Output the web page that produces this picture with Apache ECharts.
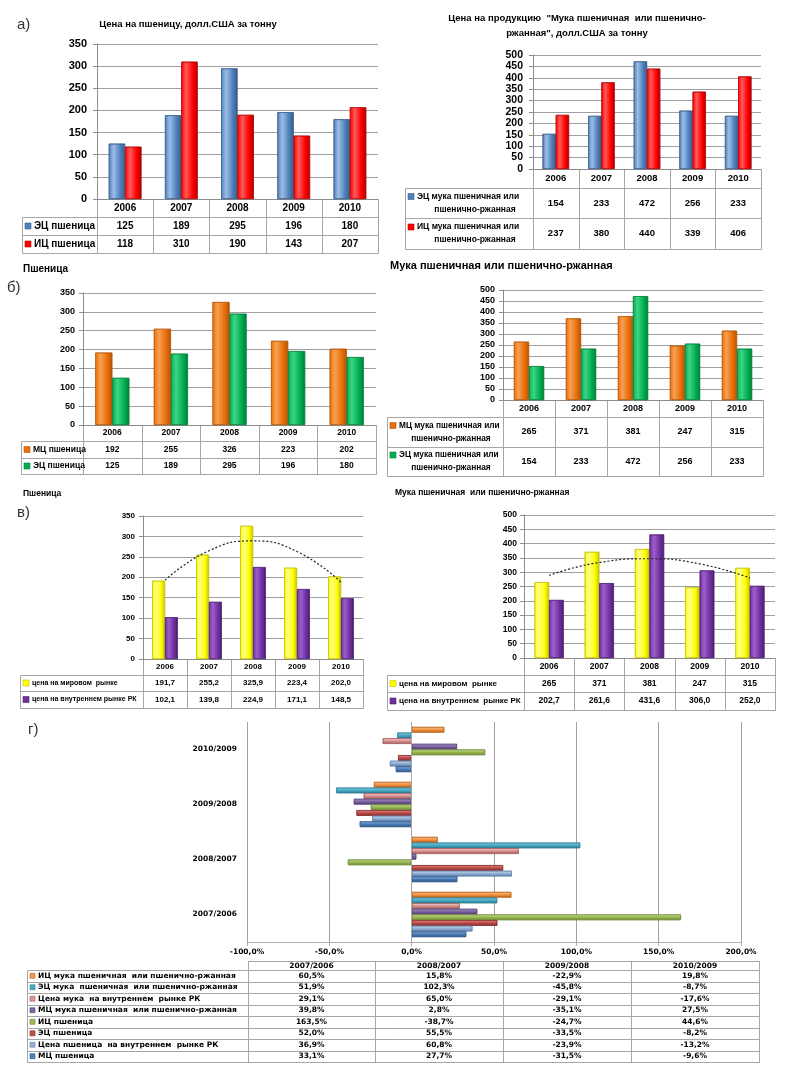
<!DOCTYPE html>
<html><head><meta charset="utf-8">
<script src="https://cdn.jsdelivr.net/npm/echarts/dist/echarts.min.js"></script>
<style>html,body{margin:0;padding:0;background:#fff}#c{width:787px;height:1073px}</style>
</head><body><div id="c"></div>
<script>
// ---------- DATA ----------
const years = ['2006', '2007', '2008', '2009', '2010'];
// а)
const ecWheat = [125, 189, 295, 196, 180];
const icWheat = [118, 310, 190, 143, 207];
const ecFlour = [154, 233, 472, 256, 233];
const icFlour = [237, 380, 440, 339, 406];
// б)
const mcWheat = [192, 255, 326, 223, 202];
const mcFlour = [265, 371, 381, 247, 315];
// в)
const worldWheat = [191.7, 255.2, 325.9, 223.4, 202.0];
const domWheat = [102.1, 139.8, 224.9, 171.1, 148.5];
const worldFlour = [265, 371, 381, 247, 315];
const domFlour = [202.7, 261.6, 431.6, 306.0, 252.0];
// dotted trend curves at each year
const trendWheat = [193, 265, 289, 263, 188];
const trendFlour = [289, 334, 347, 329, 280];
// г)
const periods = ['2007/2006', '2008/2007', '2009/2008', '2010/2009'];
const gIcFlour = [60.5, 15.8, -22.9, 19.8];
const gEcFlour = [51.9, 102.3, -45.8, -8.7];
const gDomFlour = [29.1, 65.0, -29.1, -17.6];
const gMcFlour = [39.8, 2.8, -35.1, 27.5];
const gIcWheat = [163.5, -38.7, -24.7, 44.6];
const gEcWheat = [52.0, 55.5, -33.5, -8.2];
const gDomWheat = [36.9, 60.8, -23.9, -13.2];
const gMcWheat = [33.1, 27.7, -31.5, -9.6];

// ---------- STYLE ----------
const FB = '"Liberation Sans", Arial, sans-serif';
const FD = '"DejaVu Sans", Verdana, sans-serif';
const GRID_C = '#a0a0a0';
const TBL_C = '#a6a6a6';
const C = {
  blue:   {light: '#9cbde6', mid: '#4f81bd', dark: '#385d8a'},
  red:    {light: '#ff5a5a', mid: '#ff0000', dark: '#b00000'},
  orange: {light: '#f8a050', mid: '#e9700c', dark: '#b35506'},
  green:  {light: '#3fd386', mid: '#00b050', dark: '#007f39'},
  yellow: {light: '#ffff8a', mid: '#ffff00', dark: '#c4c400'},
  purple: {light: '#9d5fcc', mid: '#7030a0', dark: '#4e1f72'}
};
const G = {
  orange: {light: '#fbc08a', mid: '#f79646', dark: '#b8651d'},
  cyan:   {light: '#8fd3e6', mid: '#4bacc6', dark: '#2c7f96'},
  pink:   {light: '#f4d3d2', mid: '#d99694', dark: '#a35b59'},
  purple: {light: '#ad98c8', mid: '#8064a2', dark: '#53407a'},
  green:  {light: '#cfe6a0', mid: '#9bbb59', dark: '#6b8a2f'},
  red:    {light: '#e58a88', mid: '#c0504d', dark: '#862b28'},
  lblue:  {light: '#d3e1f1', mid: '#95b3d7', dark: '#5f82ad'},
  blue:   {light: '#95b6dd', mid: '#4f81bd', dark: '#2c5587'}
};

const L = {
  a1: {grid: {left: 97, top: 44, width: 281, height: 155}, max: 350, yFont: 11, tFont: 10, lFont: 10, lm: 10, legendX: 22, hdr: [199, 217], rows: [[217, 235], [235, 253]]},
  a2: {grid: {left: 533, top: 55, width: 228, height: 114}, max: 500, yFont: 10.5, tFont: 9.5, lFont: 8.5, lm: 10, legendX: 405, hdr: [169, 188], rows: [[188, 218], [218, 249]]},
  b1: {grid: {left: 83, top: 293, width: 293, height: 132}, max: 350, yFont: 9, tFont: 8.5, lFont: 8.5, lm: 8, legendX: 21, hdr: [425, 441], rows: [[441, 458], [458, 474]]},
  b2: {grid: {left: 503, top: 290, width: 260, height: 110}, max: 500, yFont: 9, tFont: 9, lFont: 8.3, lm: 8, legendX: 387, hdr: [400, 417], rows: [[417, 447], [447, 476]]},
  c1: {grid: {left: 143, top: 516, width: 220, height: 143}, max: 350, yFont: 8, tFont: 8, lFont: 7, lm: 8, legendX: 20, hdr: [659, 675], rows: [[675, 691], [691, 708]]},
  c2: {grid: {left: 524, top: 515, width: 251, height: 143}, max: 500, yFont: 8.5, tFont: 8.5, lFont: 8, lm: 7, legendX: 387, hdr: [658, 675], rows: [[675, 692], [692, 710]]}
};

const charts = [
  {key: 'a1', series: [
    {label: ['ЭЦ пшеница'], data: ecWheat, color: C.blue, dec: 0},
    {label: ['ИЦ пшеница'], data: icWheat, color: C.red, dec: 0}]},
  {key: 'a2', series: [
    {label: ['ЭЦ мука пшеничная или', 'пшенично-ржанная'], data: ecFlour, color: C.blue, dec: 0},
    {label: ['ИЦ мука пшеничная или', 'пшенично-ржанная'], data: icFlour, color: C.red, dec: 0}]},
  {key: 'b1', series: [
    {label: ['МЦ пшеница'], data: mcWheat, color: C.orange, dec: 0},
    {label: ['ЭЦ пшеница'], data: ecWheat, color: C.green, dec: 0}]},
  {key: 'b2', series: [
    {label: ['МЦ мука пшеничная или', 'пшенично-ржанная'], data: mcFlour, color: C.orange, dec: 0},
    {label: ['ЭЦ мука пшеничная или', 'пшенично-ржанная'], data: ecFlour, color: C.green, dec: 0}]},
  {key: 'c1', trend: trendWheat, series: [
    {label: ['цена на мировом  рынке'], data: worldWheat, color: C.yellow, dec: 1},
    {label: ['цена на внутреннем рынке РК'], data: domWheat, color: C.purple, dec: 1}]},
  {key: 'c2', trend: trendFlour, series: [
    {label: ['цена на мировом  рынке'], data: worldFlour, color: C.yellow, dec: 0},
    {label: ['цена на внутреннем  рынке РК'], data: domFlour, color: C.purple, dec: 1}]}
];

const gSeries = [
  {name: 'ИЦ мука пшеничная  или пшенично-ржанная', data: gIcFlour, color: G.orange},
  {name: 'ЭЦ мука  пшеничная  или пшенично-ржанная', data: gEcFlour, color: G.cyan},
  {name: 'Цена мука  на внутреннем  рынке РК', data: gDomFlour, color: G.pink},
  {name: 'МЦ мука пшеничная  или пшенично-ржанная', data: gMcFlour, color: G.purple},
  {name: 'ИЦ пшеница', data: gIcWheat, color: G.green},
  {name: 'ЭЦ пшеница', data: gEcWheat, color: G.red},
  {name: 'Цена пшеница  на внутреннем  рынке РК', data: gDomWheat, color: G.lblue},
  {name: 'МЦ пшеница', data: gMcWheat, color: G.blue}
];
const gLayout = {grid: {left: 247, top: 722, width: 494, height: 220}, legendX: 27, cols: [248, 375, 503, 631, 759], hdr: [961, 970], rowH: 11.5};

const fmt = (v, d) => v.toFixed(d).replace('.', ',');

function hGrad(c) {
  return new echarts.graphic.LinearGradient(0, 0, 1, 0, [
    {offset: 0, color: c.mid}, {offset: 0.3, color: c.light}, {offset: 0.7, color: c.mid}, {offset: 1, color: c.dark}]);
}
function vGrad(c) {
  return new echarts.graphic.LinearGradient(0, 0, 0, 1, [
    {offset: 0, color: c.light}, {offset: 0.45, color: c.mid}, {offset: 1, color: c.dark}]);
}

// ---------- OPTION ----------
const grid = [], xAxis = [], yAxis = [], series = [];
charts.forEach((c, k) => {
  const g = L[c.key];
  grid.push(Object.assign({containLabel: false}, g.grid));
  xAxis.push({type: 'category', gridIndex: k, data: years,
    axisLine: {show: true, lineStyle: {color: '#8c8c8c'}}, axisTick: {show: false}, axisLabel: {show: false}});
  yAxis.push({type: 'value', gridIndex: k, min: 0, max: g.max, interval: 50,
    axisLine: {show: true, lineStyle: {color: '#8c8c8c'}},
    axisTick: {show: true, length: 4, lineStyle: {color: '#8c8c8c'}},
    splitLine: {lineStyle: {color: GRID_C, width: 1}},
    axisLabel: {margin: g.lm, fontFamily: FB, fontWeight: 'bold', fontSize: g.yFont, color: '#000'}});
  c.series.forEach(s => series.push({type: 'bar', xAxisIndex: k, yAxisIndex: k, data: s.data,
    barGap: '0%', barCategoryGap: '42%',
    itemStyle: {color: hGrad(s.color), borderColor: s.color.dark, borderWidth: 0.6}}));
  if (c.trend) series.push({type: 'line', xAxisIndex: k, yAxisIndex: k, data: c.trend, smooth: true,
    symbol: 'none', z: 5, lineStyle: {color: '#222', width: 1.2, type: [2, 2]}});
});
const gk = charts.length;
grid.push(Object.assign({containLabel: false}, gLayout.grid));
xAxis.push({type: 'value', gridIndex: gk, min: -100, max: 200, interval: 50,
  axisLine: {show: true, lineStyle: {color: '#b0b0b0'}},
  axisTick: {show: true, length: 4, lineStyle: {color: '#b0b0b0'}},
  splitLine: {lineStyle: {color: GRID_C, width: 1}},
  axisLabel: {margin: 6, fontFamily: FD, fontWeight: 'bold', fontSize: 7.5, color: '#000',
    formatter: v => fmt(v, 1) + '%'}});
yAxis.push({type: 'category', gridIndex: gk, data: periods,
  axisLine: {show: false}, axisTick: {show: false},
  axisLabel: {margin: 10, fontFamily: FD, fontWeight: 'bold', fontSize: 7.5, color: '#000'}});
gSeries.forEach((s, i) => {
  const ser = {type: 'bar', name: s.name, xAxisIndex: gk, yAxisIndex: gk, data: s.data,
    barGap: '0%', barCategoryGap: '18%',
    itemStyle: {color: vGrad(s.color), borderColor: s.color.dark, borderWidth: 0.6}};
  if (i === 0) ser.markLine = {silent: true, symbol: 'none', label: {show: false},
    lineStyle: {color: '#a8a8a8', type: 'solid', width: 1}, data: [{xAxis: 0}]};
  series.push(ser);
});

const chart = echarts.init(document.getElementById('c'), null, {renderer: 'canvas', width: 787, height: 1073});
chart.setOption({animation: false, backgroundColor: '#fff', grid, xAxis, yAxis, series});

// ---------- TEXT & TABLES (graphic) ----------
const els = [];
const px = v => Math.round(v) + 0.5;
const line = (x1, y1, x2, y2) => els.push({type: 'line', silent: true,
  shape: {x1: px(x1), y1: px(y1), x2: px(x2), y2: px(y2)}, style: {stroke: TBL_C, lineWidth: 1}});
const text = (t, x, y, font, align, fill) => els.push({type: 'text', silent: true, x, y,
  style: {text: t, font, fill: fill || '#000', textAlign: align || 'center', textVerticalAlign: 'middle'}});
const marker = (x, y, s, c) => els.push({type: 'rect', silent: true,
  shape: {x, y: y - s / 2, width: s, height: s}, style: {fill: c.mid, stroke: c.dark, lineWidth: 0.6}});

// panel letters and titles
text('а)', 17, 25, 'normal 15px ' + FB, 'left', '#333');
text('Цена на пшеницу, долл.США за тонну', 188, 24, 'bold 9.5px ' + FB);
text('Цена на продукцию  "Мука пшеничная  или пшенично-', 577, 18, 'bold 9.5px ' + FB);
text('ржанная", долл.США за тонну', 577, 33, 'bold 9.5px ' + FB);
text('Пшеница', 23, 269, 'bold 10px ' + FB, 'left');
text('б)', 7, 288, 'normal 15px ' + FB, 'left', '#333');
text('Мука пшеничная или пшенично-ржанная', 390, 266, 'bold 11px ' + FB, 'left');
text('Пшеница', 23, 494, 'bold 8.5px ' + FB, 'left');
text('в)', 17, 513, 'normal 15px ' + FB, 'left', '#333');
text('Мука пшеничная  или пшенично-ржанная', 395, 493, 'bold 8.5px ' + FB, 'left');
text('г)', 28, 730, 'normal 15px ' + FB, 'left', '#333');

// data tables under bar charts, columns aligned with the category axis
charts.forEach((c, k) => {
  const g = L[c.key];
  const centers = years.map((_, i) => chart.convertToPixel({xAxisIndex: k}, i));
  const step = centers[1] - centers[0];
  const bounds = [centers[0] - step / 2].concat(centers.map(x => x + step / 2));
  const left = bounds[0], right = bounds[bounds.length - 1];
  const yBot = g.rows[g.rows.length - 1][1];
  const font = 'bold ' + g.tFont + 'px ' + FB;
  const lfont = 'bold ' + g.lFont + 'px ' + FB;
  line(left, g.hdr[0], right, g.hdr[0]);
  g.rows.forEach(r => line(g.legendX, r[0], right, r[0]));
  line(g.legendX, yBot, right, yBot);
  bounds.forEach(x => line(x, g.hdr[0], x, yBot));
  line(g.legendX, g.rows[0][0], g.legendX, yBot);
  const hm = (g.hdr[0] + g.hdr[1]) / 2;
  years.forEach((y, i) => text(y, centers[i], hm, font));
  c.series.forEach((s, r) => {
    const [y0, y1] = g.rows[r];
    const ym = (y0 + y1) / 2;
    s.data.forEach((v, i) => text(fmt(v, s.dec), centers[i], ym, font));
    const ms = 6;
    if (s.label.length === 1) {
      marker(g.legendX + 3, ym, ms, s.color);
      text(s.label[0], g.legendX + 3 + ms + 3, ym, lfont, 'left');
    } else {
      const tx = g.legendX + 3 + ms + 3;
      text(s.label[0], tx, ym - 6.5, lfont, 'left');
      text(s.label[1], (tx + left) / 2, ym + 6.5, lfont);
      marker(g.legendX + 3, ym - 6.5, ms, s.color);
    }
  });
});

// data table under chart г)
(function () {
  const t = gLayout;
  const font = 'bold 7.5px ' + FD;
  const cols = t.cols;
  const rowsTop = t.hdr[1];
  const yBot = rowsTop + gSeries.length * t.rowH;
  line(cols[0], t.hdr[0], cols[cols.length - 1], t.hdr[0]);
  for (let r = 0; r <= gSeries.length; r++) line(t.legendX, rowsTop + r * t.rowH, cols[cols.length - 1], rowsTop + r * t.rowH);
  cols.forEach(x => line(x, t.hdr[0], x, yBot));
  line(t.legendX, rowsTop, t.legendX, yBot);
  periods.forEach((p, i) => text(p, (cols[i] + cols[i + 1]) / 2, (t.hdr[0] + t.hdr[1]) / 2 + 0.5, font));
  gSeries.forEach((s, r) => {
    const ym = rowsTop + (r + 0.5) * t.rowH;
    marker(t.legendX + 3, ym, 5, s.color);
    text(s.name, t.legendX + 11, ym, font, 'left');
    s.data.forEach((v, i) => text(fmt(v, 1) + '%', (cols[i] + cols[i + 1]) / 2, ym, font));
  });
})();

chart.setOption({graphic: els});
</script></body></html>
